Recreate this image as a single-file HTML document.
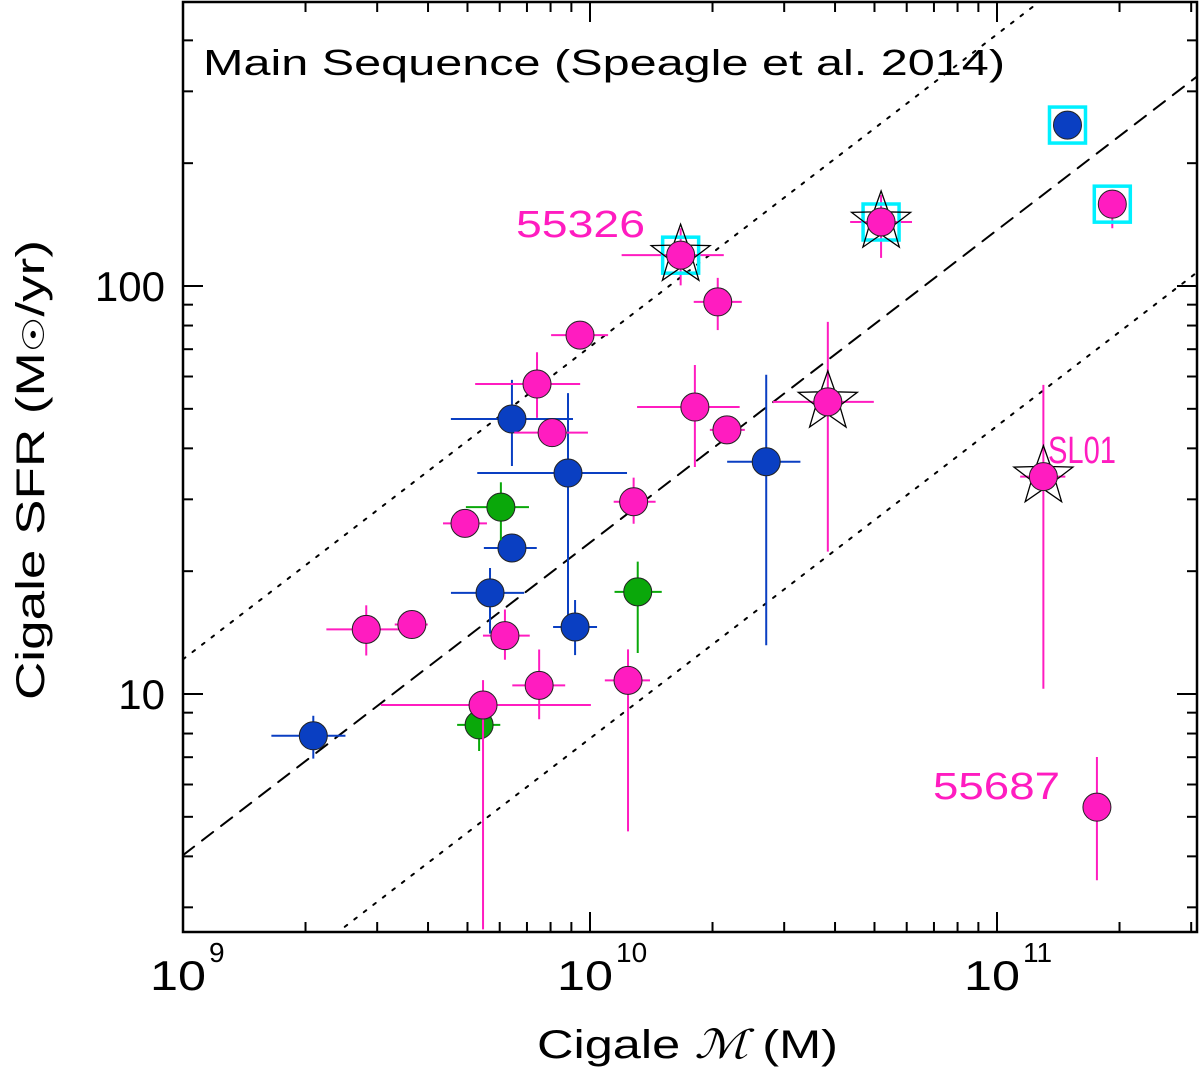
<!DOCTYPE html>
<html><head><meta charset="utf-8"><style>
html,body{margin:0;padding:0;background:#fff;}
svg{display:block;font-family:"Liberation Sans","DejaVu Sans",sans-serif;}
</style></head><body>
<svg id="chart" width="1200" height="1067" viewBox="0 0 1200 1067" xmlns="http://www.w3.org/2000/svg">
<g id="lines"></g>
<g id="marks"></g>
<g id="axes"></g>
<text x="203" y="75" font-size="36" fill="#000" textLength="802" lengthAdjust="spacingAndGlyphs">Main Sequence (Speagle et al. 2014)</text>
<text x="516" y="237" font-size="38" fill="#ff1cc0" textLength="129" lengthAdjust="spacingAndGlyphs">55326</text>
<text x="1048" y="463" font-size="38" fill="#ff1cc0" textLength="68" lengthAdjust="spacingAndGlyphs">SL01</text>
<text x="933" y="799" font-size="38" fill="#ff1cc0" textLength="127" lengthAdjust="spacingAndGlyphs">55687</text>
<text x="537" y="1058" font-size="40" textLength="301" lengthAdjust="spacingAndGlyphs">Cigale <tspan font-style="italic" font-family="Liberation Serif, serif">ℳ</tspan> (M)</text>
<text transform="translate(44,700) rotate(-90)" font-size="40" textLength="460" lengthAdjust="spacingAndGlyphs">Cigale SFR (M<tspan font-size="30">☉</tspan>/yr)</text>
</svg>
<script>
// Data (stellar mass in Msun, SFR in Msun/yr); errors in dex
const colors = ["blue","blue","blue","blue","blue","blue","blue","blue",
  "green","green","green",
  "pink","pink","pink","pink","pink","pink","pink","pink","pink","pink","pink","pink","pink","pink","pink","pink","pink","pink","pink","pink"];
const mass = [2.09e9,6.43e9,8.83e9,6.43e9,5.68e9,9.19e9,2.71e10,1.49e11,
  6.04e9,1.31e10,5.34e9,
  2.82e9,3.65e9,4.93e9,7.41e9,8.07e9,9.45e9,6.18e9,5.46e9,7.5e9,1.24e10,1.28e10,1.67e10,2.06e10,1.81e10,2.17e10,3.84e10,5.19e10,1.30e11,1.92e11,1.76e11];
const sfr = [7.9,47.2,34.8,22.8,17.7,14.6,37.1,248,
  28.7,17.8,8.4,
  14.4,14.8,26.2,57.5,43.7,75.8,13.9,9.4,10.5,10.8,29.6,119,91.4,50.5,44.4,52,143.5,34.1,158.7,5.28];
const xErrLo = [0.103,0.150,0.223,0.069,0.096,0.054,0.096,0.02,
  0.086,0.057,0.054,
  0.098,0.042,0.054,0.152,0.093,0.071,0.054,0.251,0.066,0.057,0.049,0.145,0.059,0.142,0.042,0.135,0.076,0.057,0.02,0.02];
const xErrHi = [0.079,0.150,0.145,0.061,0.084,0.054,0.084,0.02,
  0.069,0.059,0.052,
  0.084,0.039,0.054,0.106,0.088,0.069,0.061,0.265,0.064,0.054,0.054,0.106,0.059,0.110,0.044,0.113,0.076,0.054,0.02,0.02];
const yErrLo = [0.056,0.115,0.385,0.03,0.10,0.069,0.450,0.03,
  0.081,0.15,0.064,
  0.064,0.025,0.03,0.083,0.03,0.03,0.059,0.55,0.083,0.370,0.054,0.074,0.069,0.147,0.03,0.367,0.088,0.520,0.059,0.179];
const yErrHi = [0.049,0.096,0.196,0.03,0.061,0.066,0.213,0.03,
  0.061,0.074,0.059,
  0.059,0.025,0.03,0.078,0.03,0.03,0.064,0.061,0.088,0.076,0.059,0.066,0.059,0.103,0.03,0.196,0.066,0.225,0.034,0.123];
const starred = [22,26,27,28];
const squared = [7,22,27,29];
const xTickVals = [1e9,1e10,1e11];
const xTickLabels = ["10","10","10"];
const xTickExps = ["9","10","11"];
const yTickVals = [10,100];
const yTickLabels = ["10","100"];
const msIntercept = 0.605, msSlope = 0.766, msScatter = 0.48;

const X0=183,X1=1197,Y0=2,Y1=932;
const lxMin=9, lxMax=9+(X1-X0)/407, lyMax=2+(286-Y0)/408, lyMin=2-(Y1-286)/408;
const sx=v=>X0+(Math.log10(v)-lxMin)/(lxMax-lxMin)*(X1-X0);
const sy=v=>Y1-(Math.log10(v)-lyMin)/(lyMax-lyMin)*(Y1-Y0);
const NS="http://www.w3.org/2000/svg";
function mk(tag,attrs,parent){const e=document.createElementNS(NS,tag);for(const k in attrs)e.setAttribute(k,attrs[k]);parent.appendChild(e);return e;}
const col={blue:"#0a3fc2",green:"#0aa80a",pink:"#ff1cc0"};

const lines=document.getElementById('lines');
const clip=mk('clipPath',{id:'pc'},document.getElementById('chart'));
mk('rect',{x:X0,y:Y0,width:X1-X0,height:Y1-Y0},clip);
lines.setAttribute('clip-path','url(#pc)');
[[0,"14,10","main-sequence-line"],[msScatter,"3,9","upper-scatter-line"],[-msScatter,"3,9","lower-scatter-line"]].forEach(([off,dash,name])=>{
  const f=m=>Math.pow(10,msIntercept+off+msSlope*(Math.log10(m)-9));
  const l=mk('line',{x1:sx(1e9),y1:sy(f(1e9)),x2:sx(3.2e11),y2:sy(f(3.2e11)),stroke:"#000","stroke-width":2,"stroke-dasharray":dash,"stroke-linecap":"round"},lines);
  
  
});

const marks=document.getElementById('marks');
marks.setAttribute('clip-path','url(#pc)');
for(let i=0;i<mass.length;i++){
  const g=mk('g',{},marks);
  
  
  const c=col[colors[i]];
  const x=sx(mass[i]),y=sy(sfr[i]);
  const lm=Math.log10(mass[i]),ls=Math.log10(sfr[i]);
  mk('line',{x1:sx(Math.pow(10,lm-xErrLo[i])),x2:sx(Math.pow(10,lm+xErrHi[i])),y1:y,y2:y,stroke:c,"stroke-width":2},g);
  mk('line',{x1:x,x2:x,y1:sy(Math.pow(10,ls-yErrLo[i])),y2:sy(Math.pow(10,ls+yErrHi[i])),stroke:c,"stroke-width":2},g);
  if(squared.includes(i)) mk('rect',{x:x-18,y:y-18,width:36,height:36,fill:"none",stroke:"#00f0ff","stroke-width":3.5},g);
  if(starred.includes(i)){
    let p=[];for(let k=0;k<10;k++){const r=k%2?12.5:31;const a=-Math.PI/2+k*Math.PI/5;p.push((x+r*Math.cos(a)).toFixed(1)+","+(y+r*Math.sin(a)).toFixed(1));}
    mk('polygon',{points:p.join(" "),fill:"none",stroke:"#000","stroke-width":1.3},g);
  }
  mk('circle',{cx:x,cy:y,r:14,fill:c,stroke:"#222","stroke-width":1},g);
}

const ax=document.getElementById('axes');
mk('rect',{x:X0,y:Y0,width:X1-X0,height:Y1-Y0,fill:"none",stroke:"#000","stroke-width":2.5},ax);
for(let d=9;d<=11;d++)for(let m=1;m<=9;m++){
  const v=m*Math.pow(10,d);const x=sx(v);if(x>X1)continue;
  const L=m==1?20:10;
  mk('line',{x1:x,x2:x,y1:Y1,y2:Y1-L,stroke:"#000","stroke-width":2},ax);
  mk('line',{x1:x,x2:x,y1:Y0,y2:Y0+L,stroke:"#000","stroke-width":2},ax);
}
for(let d=0;d<=2;d++)for(let m=1;m<=9;m++){
  const v=m*Math.pow(10,d);const y=sy(v);if(y>Y1||y<Y0)continue;
  const L=m==1?20:10;
  mk('line',{x1:X0,x2:X0+L,y1:y,y2:y,stroke:"#000","stroke-width":2},ax);
  mk('line',{x1:X1,x2:X1-L,y1:y,y2:y,stroke:"#000","stroke-width":2},ax);
}
xTickVals.forEach((v,i)=>{
  const t=mk('text',{x:sx(v)-33,y:990,"font-size":42,textLength:56,lengthAdjust:"spacingAndGlyphs"},ax);
  t.textContent=xTickLabels[i];
  
  
  const e=mk('text',{x:sx(v)+26,y:962,"font-size":28},ax);
  e.textContent=xTickExps[i];
});
yTickVals.forEach((v,i)=>{
  const t=mk('text',{x:165,y:sy(v)+15,"font-size":42,"text-anchor":"end"},ax);
  t.textContent=yTickLabels[i];
  
  
});
</script>
</body></html>
